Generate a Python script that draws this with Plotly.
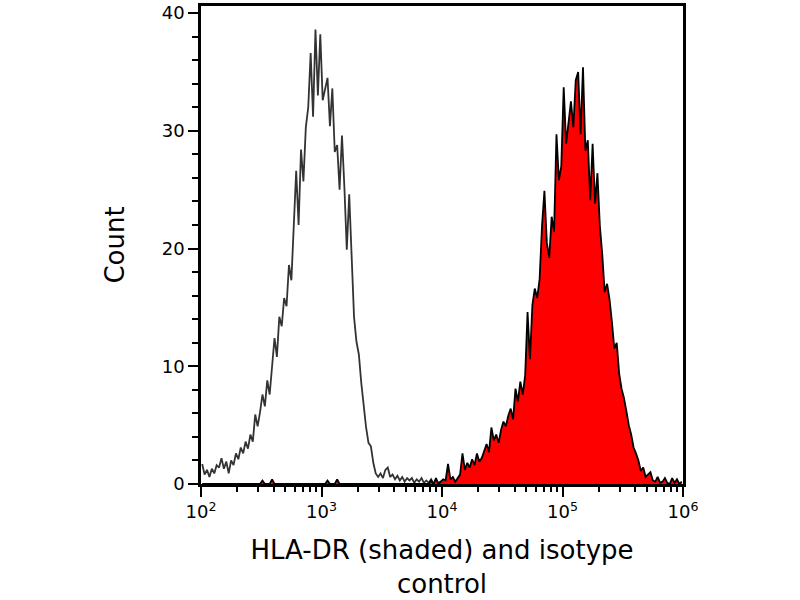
import numpy as np
import plotly.graph_objects as go

# histogram channels: 50 per decade, 10^2 .. 10^6
bins_per_decade = 50
first_decade = 2

# isotype control (outline only)
isotype_counts = [
    1.7, 0.8, 1.2, 0.6, 1.3, 0.9, 1.6, 1.4, 2.2, 1.3,
    1.9, 0.9, 2.0, 1.6, 2.6, 2.1, 3.1, 2.6, 3.6, 3.0,
    4.2, 3.6, 5.9, 4.9, 6.1, 7.6, 6.6, 8.8, 7.6, 9.9,
    12.4, 10.8, 14.2, 13.4, 15.8, 15.1, 18.6, 17.3, 21.5, 26.6,
    22.0, 28.4, 25.7, 30.3, 32.0, 36.6, 31.2, 38.6, 33.0, 38.2,
    32.6, 33.7, 34.5, 30.4, 33.6, 28.2, 28.8, 25.0, 29.6, 25.2,
    19.9, 24.6, 19.3, 14.2, 12.1, 11.0, 8.6, 6.6, 4.8, 3.5,
    3.2, 1.8, 0.9, 0.6, 0.9, 0.5, 1.2, 1.4, 0.6, 0.8,
    0.4, 0.7, 0.3, 0.6, 0.2, 0.5, 0.3, 0.5, 0.1, 0.4,
    0.2, 0.5, 0.1, 0.3, 0.1, 0.4, 0.0, 0.3, 0.1, 0.2,
    0.0, 0.1, 0.0, 0.2, 0.0, 0.0, 0.1, 0.0, 0.0, 0.0,
]

# HLA-DR stained (shaded)
hla_dr_counts = [
    0, 0, 0, 0, 0, 0, 0, 0, 0, 0,
    0, 0, 0, 0, 0, 0, 0, 0, 0, 0,
    0, 0, 0, 0, 0, 0.3, 0, 0, 0, 0.4,
    0, 0, 0, 0, 0, 0, 0, 0, 0, 0,
    0, 0, 0, 0, 0, 0, 0, 0, 0, 0,
    0, 0, 0.3, 0, 0, 0, 0.4, 0, 0, 0,
    0, 0, 0, 0, 0, 0, 0, 0, 0, 0,
    0, 0, 0, 0, 0, 0, 0, 0, 0, 0,
    0, 0, 0, 0, 0, 0, 0, 0, 0, 0,
    0, 0, 0, 0, 0, 0.3, 0, 0.5, 0, 0.2,
    0.4, 0.3, 1.7, 0.4, 0.6, 0.2, 0.5, 0.8, 2.6, 1.2,
    1.8, 1.4, 2.1, 1.6, 2.6, 1.9, 2.2, 2.8, 3.4, 2.7,
    4.8, 3.7, 4.2, 3.5, 4.6, 5.3, 4.9, 5.8, 6.4, 5.5,
    8.1, 7.0, 8.7, 7.6, 9.2, 14.6, 10.6, 15.2, 16.6, 15.8,
    17.4, 21.9, 24.9, 20.5, 19.2, 22.7, 21.4, 29.7, 25.8, 27.0,
    33.7, 28.9, 30.8, 32.5, 30.3, 34.3, 35.0, 29.7, 35.4, 28.3,
    29.2, 24.1, 28.9, 23.8, 26.4, 21.9, 19.5, 16.3, 17.0, 15.7,
    13.8, 11.5, 12.0, 9.4, 8.1, 7.3, 6.2, 5.0, 4.2, 3.1,
    2.6, 2.0, 1.1, 1.4, 0.6, 0.8, 1.0, 0.3, 0.2, 0.6,
    0.1, 0.2, 0.5, 0.1, 0.0, 0.5, 0.1, 0.4, 0.0, 0.2,
]

x_tick_vals = [1e2, 1e3, 1e4, 1e5, 1e6]
x_tick_text = ["10<sup>2</sup>", "10<sup>3</sup>", "10<sup>4</sup>",
               "10<sup>5</sup>", "10<sup>6</sup>"]
y_tick_vals = [0, 10, 20, 30, 40]


def channel_x(n):
    ch = np.arange(n)
    return 10 ** (first_decade + (ch + 0.5) / bins_per_decade)


minor_x = [m * 10 ** e for e in range(2, 6) for m in range(2, 10)]

fig = go.Figure()
fig.add_trace(go.Scatter(
    x=channel_x(len(isotype_counts)), y=isotype_counts,
    mode="lines", line=dict(color="#333333", width=1.8),
    showlegend=False,
))
fig.add_trace(go.Scatter(
    x=channel_x(len(hla_dr_counts)), y=hla_dr_counts,
    mode="lines", fill="tozeroy", fillcolor="#ff0000",
    line=dict(color="black", width=1.8),
    showlegend=False,
))

font = "DejaVu Sans"
fig.update_layout(
    width=800, height=600,
    margin=dict(l=201, r=117, t=2, b=116),
    plot_bgcolor="white", paper_bgcolor="white",
    font=dict(family=font, color="black"),
)
fig.update_xaxes(
    type="log", range=[2, 6],
    tickvals=x_tick_vals, ticktext=x_tick_text,
    ticks="outside", ticklen=10, tickwidth=2, tickcolor="black",
    minor=dict(tickvals=minor_x, ticks="outside", ticklen=5,
               tickwidth=2, tickcolor="black", showgrid=False),
    showgrid=False, zeroline=False,
    showline=True, linecolor="black", linewidth=2.5, mirror=True,
    tickfont=dict(size=18), ticklabeloverflow="allow",
    title=dict(text="HLA-DR (shaded) and isotype<br>control",
               font=dict(size=26), standoff=20),
)
fig.update_yaxes(
    range=[0, 40.6],
    tickvals=y_tick_vals,
    ticks="outside", ticklen=10, tickwidth=2, tickcolor="black",
    minor=dict(dtick=2, ticks="outside", ticklen=6, tickwidth=2,
               tickcolor="black", showgrid=False),
    showgrid=False, zeroline=False,
    showline=True, linecolor="black", linewidth=2.5, mirror=True,
    tickfont=dict(size=18), ticklabeloverflow="allow",
    title=dict(text="Count", font=dict(size=26), standoff=30),
)

fig.write_html("out.html", config={"displayModeBar": False},
               post_script="document.body.style.margin='0';")
